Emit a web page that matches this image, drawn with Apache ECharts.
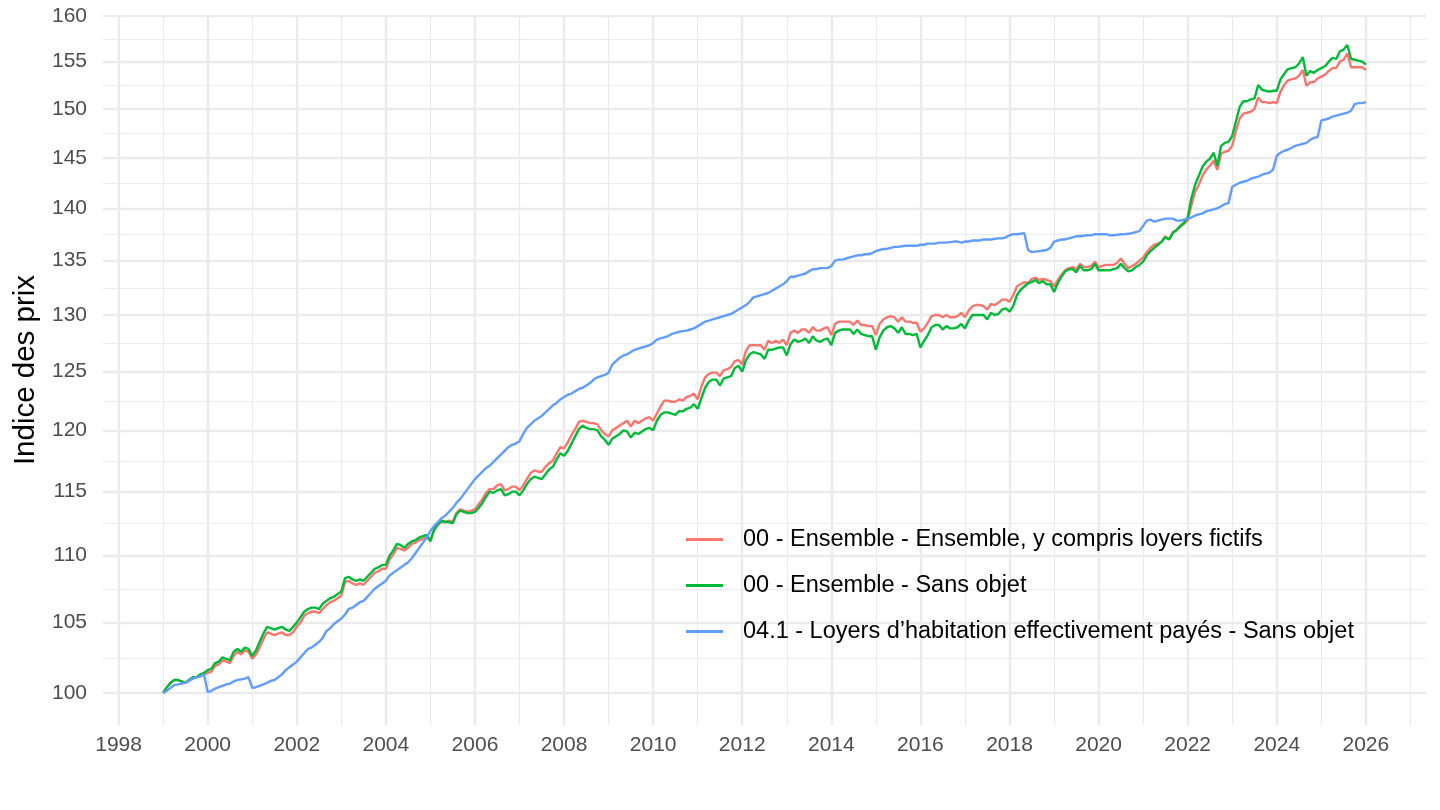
<!DOCTYPE html>
<html>
<head>
<meta charset="utf-8">
<script src="https://cdn.jsdelivr.net/npm/echarts@6/dist/echarts.min.js"></script>
<style>
html,body{margin:0;padding:0;background:#ffffff;}
#chart{width:1440px;height:810px;}
</style>
</head>
<body>
<div id="chart"></div>
<script>
// ---- data (monthly, starting January 1999) ----
const startYear = 1999;
const xMajorYears = [1998,2000,2002,2004,2006,2008,2010,2012,2014,2016,2018,2020,2022,2024,2026];
const xMinorYears = [1997,1999,2001,2003,2005,2007,2009,2011,2013,2015,2017,2019,2021,2023,2025,2027];
const yTickValues = [100,105,110,115,120,125,130,135,140,145,150,155,160];
const seriesNames = [
  "00 - Ensemble - Ensemble, y compris loyers fictifs",
  "00 - Ensemble - Sans objet",
  "04.1 - Loyers d\u2019habitation effectivement pay\u00e9s - Sans objet"
];

const ensembleLoyersFictifs = [
100.0,100.4,100.7,100.9,100.9,100.8,100.7,100.9,101.0,101.1,101.2,101.3,
101.4,101.5,101.9,102.0,102.3,102.2,102.1,102.6,102.9,102.7,103.0,102.9,
102.4,102.7,103.2,103.8,104.3,104.2,104.1,104.2,104.3,104.1,104.1,104.3,
104.7,105.0,105.5,105.7,105.8,105.8,105.7,106.0,106.3,106.5,106.6,106.8,
107.0,108.0,108.1,107.9,107.8,107.9,107.8,108.1,108.4,108.7,108.8,109.0,
109.0,109.7,110.1,110.6,110.5,110.4,110.6,110.9,111.0,111.2,111.3,111.4,
111.2,112.0,112.4,112.6,112.6,112.7,112.6,113.3,113.6,113.5,113.4,113.5,
113.6,114.0,114.4,114.9,115.2,115.2,115.5,115.6,115.1,115.2,115.4,115.4,
115.1,115.5,116.0,116.5,116.7,116.6,116.6,117.0,117.3,117.5,118.1,118.6,
118.5,119.0,119.6,120.1,120.7,120.8,120.7,120.6,120.6,120.5,120.0,119.7,
119.5,120.0,120.2,120.4,120.6,120.8,120.3,120.8,120.6,120.8,121.0,121.1,
120.8,121.4,122.0,122.5,122.5,122.4,122.4,122.6,122.5,122.8,122.9,123.1,
122.6,123.7,124.5,124.8,124.9,124.9,124.6,125.1,125.2,125.4,125.9,126.0,
125.6,126.8,127.3,127.3,127.3,127.3,126.9,127.7,127.5,127.7,127.5,127.8,
127.3,128.4,128.6,128.4,128.7,128.7,128.4,128.9,128.6,128.6,128.8,128.9,
128.2,129.2,129.4,129.4,129.4,129.4,129.1,129.5,129.1,129.1,129.0,129.0,
128.2,129.2,129.6,129.8,129.9,129.8,129.4,129.8,129.4,129.4,129.3,129.3,
128.5,128.8,129.3,129.9,130.0,130.0,129.8,130.0,129.8,129.8,129.9,130.2,
129.8,130.4,130.8,130.9,130.9,130.8,130.5,131.0,130.9,131.1,131.4,131.4,
131.2,131.8,132.6,132.8,133.0,132.9,133.3,133.4,133.2,133.3,133.2,133.1,
132.6,133.2,133.7,134.1,134.3,134.4,134.2,134.7,134.4,134.4,134.5,134.9,
134.4,134.5,134.6,134.6,134.6,134.8,135.2,134.7,134.3,134.5,134.7,135.0,
135.3,135.8,136.2,136.5,136.6,136.8,137.3,137.0,137.7,137.9,138.2,138.5,
138.8,140.3,141.6,142.3,143.2,143.8,144.2,144.7,143.8,145.4,145.6,145.7,
146.2,147.7,149.0,149.5,149.6,149.7,150.0,151.2,150.7,150.7,150.6,150.7,
150.6,151.8,152.5,153.0,153.1,153.2,153.5,154.1,152.4,152.8,152.8,153.2,
153.4,153.6,154.0,154.3,154.3,155.0,155.2,155.9,154.4,154.4,154.4,154.4,
154.1
];

const ensembleSansObjet = [
100.0,100.4,100.7,100.9,100.9,100.8,100.7,100.9,101.1,101.1,101.3,101.4,
101.6,101.7,102.1,102.2,102.5,102.4,102.3,102.9,103.1,102.9,103.2,103.1,
102.6,103.0,103.6,104.2,104.7,104.6,104.5,104.6,104.7,104.5,104.4,104.7,
105.0,105.4,105.8,106.0,106.1,106.1,106.0,106.4,106.6,106.8,106.9,107.1,
107.3,108.3,108.4,108.2,108.1,108.2,108.1,108.4,108.7,109.0,109.1,109.3,
109.3,110.0,110.4,110.9,110.8,110.6,110.9,111.1,111.2,111.4,111.5,111.6,
111.1,112.0,112.4,112.7,112.6,112.6,112.5,113.2,113.5,113.4,113.3,113.3,
113.4,113.7,114.1,114.6,115.0,114.9,115.1,115.2,114.7,114.8,115.0,115.0,
114.7,115.1,115.6,116.0,116.2,116.1,116.0,116.4,116.8,117.0,117.6,118.1,
117.9,118.3,118.9,119.5,120.1,120.4,120.2,120.1,120.1,120.0,119.5,119.2,
118.8,119.3,119.5,119.7,120.0,119.9,119.4,119.8,119.7,119.9,120.1,120.2,
120.0,120.8,121.3,121.5,121.5,121.4,121.3,121.6,121.6,121.8,121.9,122.2,
121.8,122.7,123.6,124.1,124.3,124.3,123.8,124.4,124.5,124.6,125.3,125.5,
125.0,126.0,126.5,126.7,126.6,126.5,126.1,126.9,126.9,127.0,127.1,127.1,
126.4,127.4,127.8,127.6,127.7,127.9,127.5,128.1,127.7,127.6,127.8,127.9,
127.3,128.4,128.6,128.7,128.7,128.7,128.3,128.7,128.3,128.2,128.1,128.1,
126.9,128.0,128.6,128.9,129.0,128.8,128.4,128.9,128.3,128.3,128.2,128.3,
127.1,127.7,128.2,128.9,129.1,129.1,128.7,129.0,128.8,128.8,128.9,129.2,
128.8,129.5,130.0,130.0,130.0,130.0,129.6,130.2,130.0,130.1,130.5,130.6,
130.3,130.8,131.8,132.3,132.6,132.9,133.0,133.2,132.9,133.1,132.8,132.8,
132.1,132.9,133.5,134.0,134.2,134.2,133.9,134.5,134.1,134.1,134.2,134.7,
134.1,134.1,134.1,134.1,134.2,134.3,134.7,134.3,134.0,134.1,134.4,134.6,
134.9,135.5,135.9,136.2,136.5,136.8,137.2,137.0,137.6,137.9,138.3,138.6,
139.1,141.0,142.3,143.2,144.1,144.6,144.9,145.5,144.2,146.2,146.5,146.6,
147.2,148.7,150.2,150.8,150.8,151.0,151.1,152.5,152.0,151.9,151.8,151.9,
151.9,153.1,153.7,154.2,154.3,154.4,154.8,155.5,153.5,154.0,153.8,154.1,
154.3,154.5,155.0,155.4,155.3,156.1,156.3,156.8,155.3,155.2,155.1,155.0,
154.7
];

const loyersEffectifs = [
100.0,100.15,100.35,100.55,100.6,100.65,100.7,100.85,101.0,101.1,101.15,101.3,
100.05,100.15,100.3,100.4,100.5,100.6,100.65,100.8,100.9,100.95,101.0,101.1,
100.35,100.4,100.5,100.6,100.7,100.85,100.9,101.1,101.3,101.6,101.8,102.0,
102.2,102.5,102.8,103.1,103.2,103.4,103.6,103.9,104.4,104.6,104.9,105.1,
105.3,105.6,106.0,106.1,106.3,106.5,106.6,106.9,107.2,107.5,107.7,107.9,
108.1,108.5,108.7,108.9,109.1,109.3,109.5,109.8,110.2,110.6,111.0,111.4,
111.9,112.3,112.6,112.9,113.1,113.4,113.7,114.1,114.4,114.8,115.2,115.6,
116.0,116.3,116.6,116.9,117.1,117.4,117.7,118.0,118.3,118.6,118.8,118.9,
119.1,119.7,120.2,120.5,120.8,121.0,121.2,121.5,121.8,122.1,122.3,122.6,
122.8,123.0,123.1,123.3,123.5,123.6,123.8,124.0,124.3,124.5,124.6,124.7,
124.9,125.6,125.9,126.2,126.4,126.5,126.7,126.9,127.0,127.1,127.2,127.3,
127.5,127.8,127.9,128.0,128.1,128.3,128.4,128.5,128.55,128.6,128.7,128.8,
129.0,129.2,129.4,129.5,129.6,129.7,129.8,129.9,130.0,130.1,130.3,130.5,
130.7,130.9,131.2,131.6,131.7,131.8,131.9,132.0,132.2,132.4,132.6,132.8,
133.1,133.5,133.5,133.6,133.7,133.8,134.0,134.2,134.2,134.3,134.3,134.3,
134.5,135.0,135.1,135.1,135.2,135.3,135.4,135.5,135.5,135.6,135.6,135.7,
135.9,136.0,136.1,136.1,136.2,136.3,136.3,136.35,136.4,136.4,136.4,136.4,
136.5,136.5,136.6,136.6,136.6,136.7,136.7,136.7,136.75,136.8,136.8,136.7,
136.8,136.8,136.9,136.9,136.9,137.0,137.0,137.0,137.05,137.1,137.1,137.2,
137.4,137.5,137.5,137.55,137.6,136.0,135.8,135.85,135.9,135.95,136.0,136.2,
136.8,136.9,137.0,137.0,137.1,137.2,137.3,137.3,137.35,137.4,137.4,137.5,
137.5,137.5,137.5,137.4,137.4,137.45,137.5,137.5,137.55,137.6,137.7,137.8,
138.3,138.8,138.9,138.7,138.8,138.9,139.0,139.0,139.0,138.8,138.8,138.9,
139.0,139.1,139.3,139.4,139.5,139.7,139.8,139.9,140.0,140.2,140.4,140.5,
142.1,142.3,142.5,142.6,142.7,142.9,143.0,143.1,143.3,143.4,143.5,143.8,
145.2,145.5,145.7,145.8,146.0,146.2,146.3,146.4,146.5,146.8,147.0,147.1,
148.8,148.9,149.0,149.2,149.3,149.4,149.5,149.6,149.8,150.5,150.6,150.6,
150.7
];

const colors = ["#F8766D", "#00BA38", "#619CFF"];

// ---- build ----
const toPoints = arr => arr.map((v, i) => [startYear + i / 12, Math.log(v)]);
const yMajor = yTickValues.map(v => Math.log(v));
const yMinor = [];
for (let i = 0; i < yMajor.length - 1; i++) yMinor.push((yMajor[i] + yMajor[i + 1]) / 2);
yMinor.unshift(yMajor[0] - (yMajor[1] - yMajor[0]) / 2);

const xMin = 1997.65, xMax = 2027.35;
const yMin = Math.log(97.8), yMax = Math.log(160.1);
const gridColor = "#EBEBEB";
const font = "'Liberation Sans', Arial, Helvetica, sans-serif";

const chart = echarts.init(document.getElementById("chart"), null, {renderer: "canvas"});
chart.setOption({
  animation: false,
  backgroundColor: "#ffffff",
  grid: {left: 103, right: 14, top: 15, bottom: 85, containLabel: false},
  xAxis: [
    {
      type: "value", min: xMin, max: xMax,
      axisLine: {show: false},
      axisTick: {show: false, customValues: xMajorYears},
      axisLabel: {customValues: xMajorYears, color: "#4D4D4D", fontSize: 21, fontFamily: font, margin: 10,
                  formatter: v => String(Math.round(v))},
      splitLine: {show: true, lineStyle: {color: gridColor, width: 2.4}}
    },
    {
      type: "value", min: xMin, max: xMax, gridIndex: 0, position: "bottom",
      axisLine: {show: false},
      axisTick: {show: false, customValues: xMinorYears},
      axisLabel: {show: false},
      splitLine: {show: true, lineStyle: {color: gridColor, width: 1.2}}
    }
  ],
  yAxis: [
    {
      type: "value", min: yMin, max: yMax,
      name: "Indice des prix", nameLocation: "middle", nameRotate: 90, nameGap: 62,
      nameTextStyle: {color: "#000000", fontSize: 29.5, fontFamily: font},
      axisLine: {show: false},
      axisTick: {show: false, customValues: yMajor},
      axisLabel: {customValues: yMajor, color: "#4D4D4D", fontSize: 21, fontFamily: font, margin: 16,
                  formatter: v => String(Math.round(Math.exp(v)))},
      splitLine: {show: true, lineStyle: {color: gridColor, width: 2.4}}
    },
    {
      type: "value", min: yMin, max: yMax, gridIndex: 0, position: "left",
      axisLine: {show: false},
      axisTick: {show: false, customValues: yMinor},
      axisLabel: {show: false},
      splitLine: {show: true, lineStyle: {color: gridColor, width: 1.2}}
    }
  ],
  legend: {
    orient: "vertical", left: 686, top: 527, padding: 0,
    itemWidth: 37, itemHeight: 3, itemGap: 21, icon: "rect",
    textStyle: {fontSize: 23.5, fontFamily: font, color: "#000000", lineHeight: 25, padding: [0, 0, 0, 15]},
    data: seriesNames
  },
  series: [ensembleLoyersFictifs, ensembleSansObjet, loyersEffectifs].map((arr, k) => ({
    name: seriesNames[k],
    type: "line",
    xAxisIndex: 0, yAxisIndex: 0,
    data: toPoints(arr),
    showSymbol: false,
    symbol: "none",
    color: colors[k],
    lineStyle: {color: colors[k], width: 2.4},
    itemStyle: {color: colors[k]},
    z: 2 + k
  }))
});
</script>
</body>
</html>
